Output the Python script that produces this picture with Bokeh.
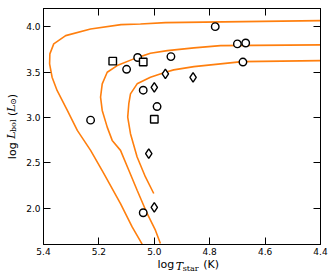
from bokeh.plotting import figure
from bokeh.models import Range1d, FixedTicker, LinearAxis, PrintfTickFormatter
from bokeh.embed import file_html
from bokeh.resources import INLINE

# ---- data ----
circle_x = [5.23, 5.10, 5.06, 5.04, 4.99, 4.94, 4.78, 4.70, 4.67, 4.68, 5.04]
circle_y = [2.97, 3.53, 3.66, 3.30, 3.12, 3.67, 4.00, 3.81, 3.82, 3.61, 1.95]

square_x = [5.15, 5.04, 5.00]
square_y = [3.62, 3.61, 2.98]

diamond_x = [5.00, 4.96, 4.86, 5.02, 5.00]
diamond_y = [3.33, 3.48, 3.44, 2.60, 2.01]

track1_x = [4.40, 4.96, 5.05, 5.12, 5.23, 5.32, 5.363, 5.377, 5.378, 5.369, 5.351, 5.314, 5.278, 5.23, 5.182, 5.122, 5.08, 5.044]
track1_y = [4.066, 4.044, 4.030, 4.022, 3.975, 3.901, 3.810, 3.700, 3.590, 3.443, 3.297, 3.077, 2.857, 2.637, 2.381, 2.051, 1.794, 1.604]

track2_x = [4.40, 4.761, 4.857, 4.953, 5.014, 5.074, 5.134, 5.170, 5.188, 5.194, 5.188, 5.170, 5.152, 5.122, 5.092, 5.062, 5.026, 4.996, 4.978]
track2_y = [3.799, 3.791, 3.766, 3.736, 3.707, 3.645, 3.571, 3.498, 3.370, 3.223, 3.077, 2.893, 2.747, 2.637, 2.418, 2.198, 1.942, 1.758, 1.612]

track3_x = [4.40, 4.683, 4.761, 4.857, 4.930, 4.960, 5.014, 5.062, 5.086, 5.092, 5.096, 5.086, 5.062, 5.032, 5.002]
track3_y = [3.626, 3.615, 3.590, 3.560, 3.524, 3.498, 3.443, 3.370, 3.260, 3.151, 3.003, 2.821, 2.564, 2.344, 2.162]

x_ticks = [5.4, 5.2, 5.0, 4.8, 4.6, 4.4]
y_ticks = [2.0, 2.5, 3.0, 3.5, 4.0]

X_START, X_END = 5.4, 4.4
Y_START, Y_END = 1.6, 4.2

# axis-title pieces: (text, position along the axis)
xlabel_main = [("log", 4.958), ("(K)", 4.795)]
xlabel_ital = [("T", 4.909)]
xlabel_sub = [("star", 4.869)]
ylabel_main = [("log", 2.633), ("(", 3.039), (")", 3.236)]
ylabel_ital = [("L", 2.804), ("L", 3.103)]
ylabel_sub = [("bol", 2.908), ("\u2299", 3.175)]

ORANGE = "#ff7f0e"
SANS = "DejaVu Sans"
SERIF = "DejaVu Serif"

p = figure(width=330, height=275, output_backend="svg", toolbar_location=None,
           x_range=Range1d(X_START, X_END), y_range=Range1d(Y_START, Y_END),
           min_border_left=43, min_border_right=10, min_border_top=8, min_border_bottom=31)
p.background_fill_color = "white"
p.border_fill_color = "white"
p.outline_line_color = "black"
p.outline_line_width = 1
p.xgrid.visible = False
p.ygrid.visible = False


def style_axis(ax, ticks, show_labels, standoff):
    ax.ticker = FixedTicker(ticks=ticks)
    ax.formatter = PrintfTickFormatter(format="%.1f")
    ax.minor_tick_line_color = None
    ax.major_tick_in = 7
    ax.major_tick_out = 0
    ax.major_tick_line_color = "black"
    ax.axis_line_color = "black"
    ax.axis_label = None
    ax.major_label_standoff = standoff
    ax.major_label_text_font = SANS
    if show_labels:
        ax.major_label_text_color = "black"
        ax.major_label_text_font_size = "9px"
    else:
        ax.major_label_text_color = None
        ax.major_label_text_font_size = "1px"


style_axis(p.xaxis[0], x_ticks, True, 3)
style_axis(p.yaxis[0], y_ticks, True, 3)
top_ax = LinearAxis()
right_ax = LinearAxis()
style_axis(top_ax, x_ticks, False, 0)
style_axis(right_ax, y_ticks, False, 0)
p.add_layout(top_ax, "above")
p.add_layout(right_ax, "right")


def title_axis(pieces, font, style, size, standoff, vertical):
    ax = LinearAxis(ticker=FixedTicker(ticks=[v for _, v in pieces]),
                    major_label_overrides={v: t for t, v in pieces})
    ax.axis_line_color = None
    ax.major_tick_line_color = None
    ax.minor_tick_line_color = None
    ax.major_tick_in = 0
    ax.major_tick_out = 0
    ax.axis_label = None
    ax.major_label_standoff = standoff
    ax.major_label_text_font = font
    ax.major_label_text_font_style = style
    ax.major_label_text_font_size = size
    ax.major_label_text_color = "black"
    if vertical:
        ax.major_label_orientation = "vertical"
    return ax


# x-axis title: log T_star (K)  (stacked below the tick labels)
p.add_layout(title_axis(xlabel_main, SANS, "normal", "11px", 0, False), "below")
p.add_layout(title_axis(xlabel_sub, SERIF, "normal", "8px", -10, False), "below")
p.add_layout(title_axis(xlabel_ital, SERIF, "italic", "11px", -16, False), "below")

# y-axis title: log L_bol (L_sun)
p.add_layout(title_axis(ylabel_main, SANS, "normal", "11px", 4, True), "left")
p.add_layout(title_axis(ylabel_ital, SERIF, "italic", "11px", -15, True), "left")
p.add_layout(title_axis(ylabel_sub, SERIF, "normal", "8px", -16, True), "left")

for tx, ty in [(track1_x, track1_y), (track2_x, track2_y), (track3_x, track3_y)]:
    p.line(tx, ty, line_color=ORANGE, line_width=1.6)

p.scatter(circle_x, circle_y, marker="circle", size=7.5, fill_color="white",
          line_color="black", line_width=1.4)
p.scatter(square_x, square_y, marker="square", size=7.5, fill_color="white",
          line_color="black", line_width=1.4)
p.scatter(diamond_x, diamond_y, marker="diamond", size=9.5, fill_color="white",
          line_color="black", line_width=1.4)

open("out.html", "w").write(file_html(p, INLINE))
